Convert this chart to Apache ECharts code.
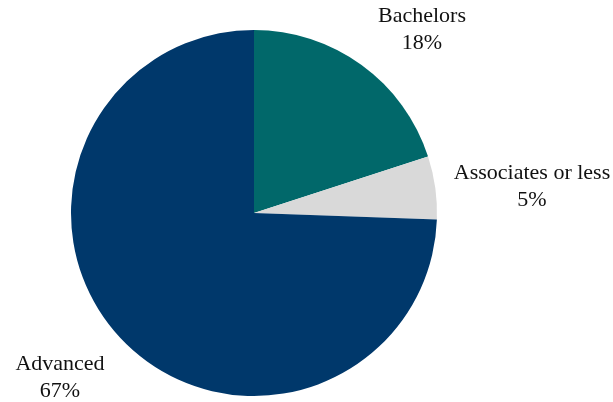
<!DOCTYPE html>
<html>
<head>
<meta charset="utf-8">
<script src="https://cdn.jsdelivr.net/npm/echarts@6/dist/echarts.min.js"></script>
<style>
  html, body { margin: 0; padding: 0; background: #fff; }
  #chart { width: 613px; height: 402px; }
</style>
</head>
<body>
<div id="chart"></div>
<script>
// Degree attainment shares
const categories = ['Bachelors', 'Associates or less', 'Advanced'];
const values = [18, 5, 67];
const colors = ['#01686A', '#D9D9D9', '#00386B'];

// Label anchor points (center of each two-line label)
const labelAnchors = [[422, 30], [532, 187], [60, 378]];

const chart = echarts.init(document.getElementById('chart'), null, { renderer: 'canvas' });

chart.setOption({
  animation: false,
  series: [{
    type: 'pie',
    center: [254, 213],
    radius: [0, 183],
    startAngle: 90,
    clockwise: true,
    data: categories.map((name, i) => ({
      name,
      value: values[i],
      itemStyle: { color: colors[i] }
    })),
    label: {
      show: true,
      position: 'outside',
      formatter: p => p.name + '\n' + p.value + '%',
      fontFamily: '"Liberation Serif", serif',
      fontSize: 22,
      lineHeight: 27,
      color: '#111',
      align: 'center',
      overflow: 'none',
      width: 300
    },
    labelLine: { show: false },
    labelLayout: p => ({
      x: labelAnchors[p.dataIndex][0],
      y: labelAnchors[p.dataIndex][1],
      align: 'center',
      verticalAlign: 'middle'
    }),
    emphasis: { disabled: true }
  }]
});
</script>
</body>
</html>
